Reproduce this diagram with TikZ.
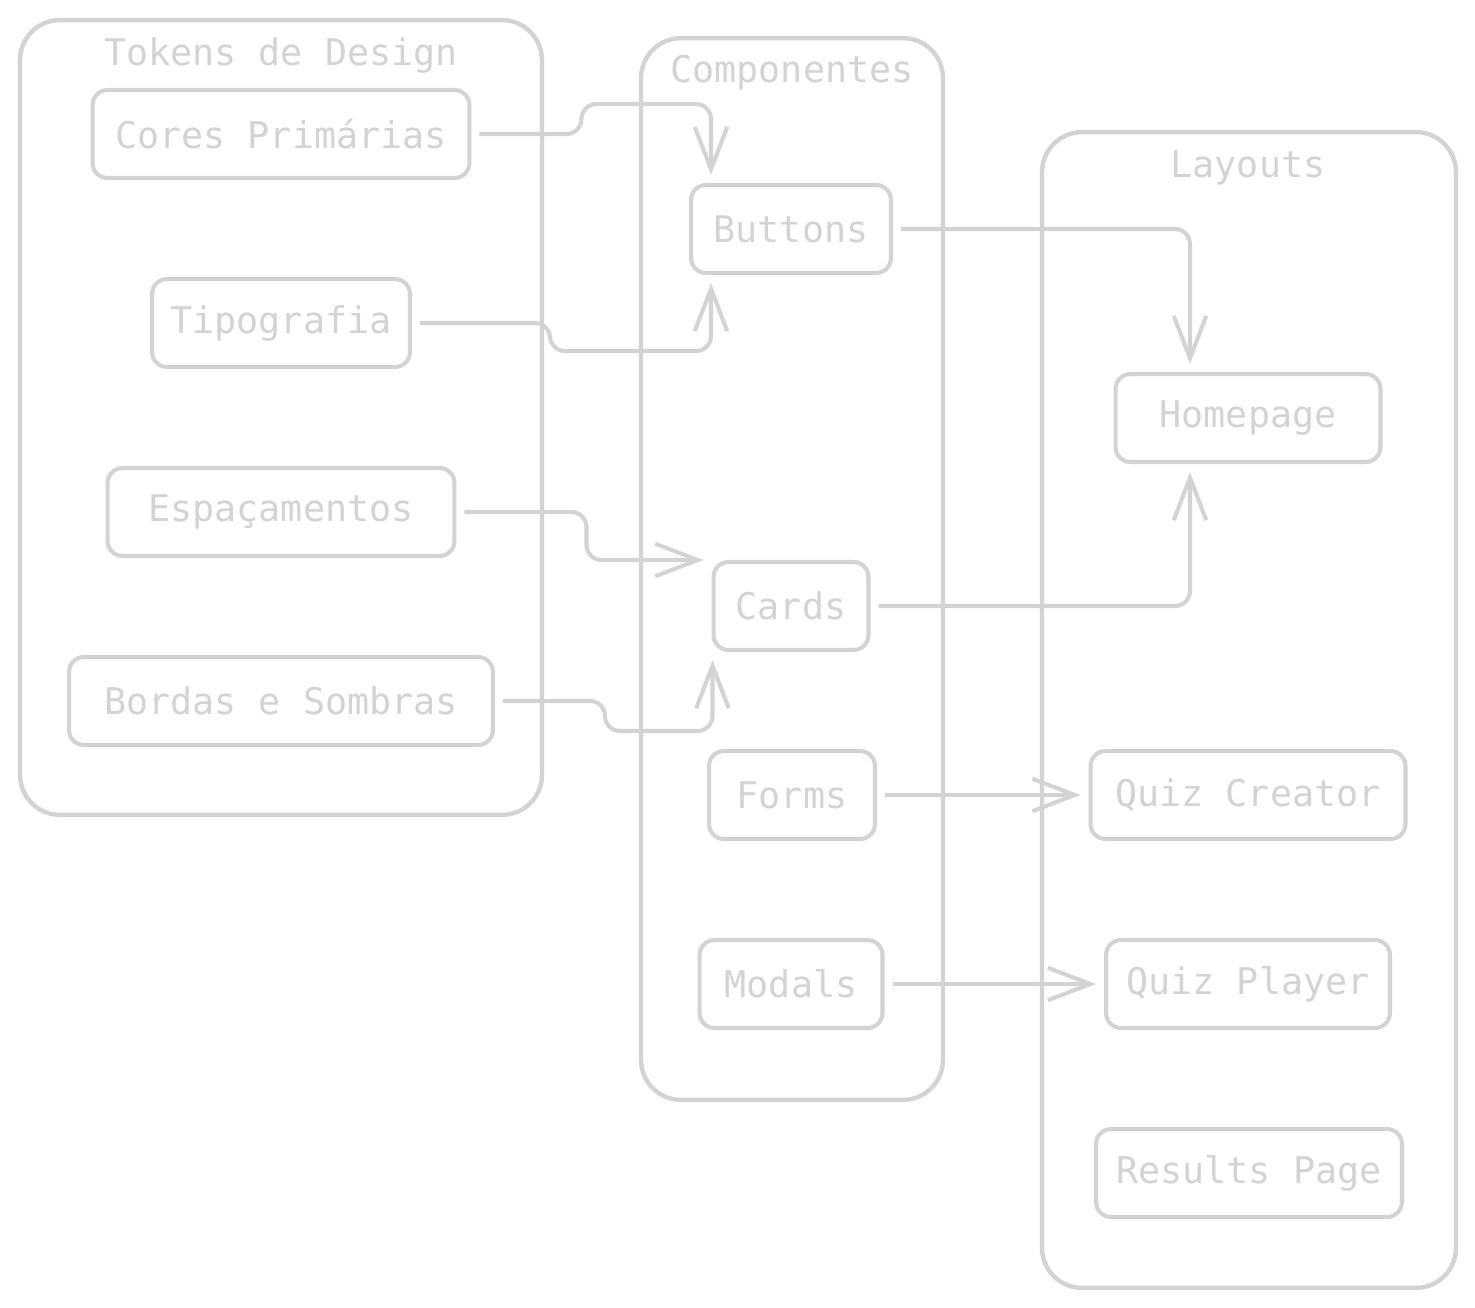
\documentclass[tikz,border=0pt]{standalone}
\usepackage{fontspec}
\setmonofont{DejaVu Sans Mono}
\usetikzlibrary{arrows.meta}
\definecolor{sketchGray}{HTML}{D3D3D3}

\begin{document}
\begin{tikzpicture}[x=0.02cm, y=-0.02cm, groupStyle/.style={rectangle, draw=sketchGray, rounded corners=0.8cm, line width=2.5pt}, boxStyle/.style={rectangle, draw=sketchGray, rounded corners=0.3cm, minimum height=1.76cm, line width=2.3pt}, arrowStyle/.style={draw=sketchGray, -{Straight Barb[length=0.85cm, width=0.65cm]}, rounded corners=0.3cm, shorten <=0.16cm, shorten >=0.16cm, line width=2.3pt}, every node/.style={font=\ttfamily\fontsize{20.9}{24}\selectfont, text=sketchGray}]
                    \useasboundingbox (0,0) rectangle (1475,1308);

                    \node[groupStyle, minimum width=10.44cm, minimum height=15.9cm]  (grp_tok)  at ( 281, 417.5) {};
                    \node[groupStyle, minimum width=6.04cm,  minimum height=21.24cm] (grp_comp) at ( 792, 569) {};
                    \node[groupStyle, minimum width=8.28cm,  minimum height=23.12cm] (grp_lay)  at (1249, 710) {};
                    \node (grp_tok_T)  at ( 281,  55) {Tokens de Design};
                    \node (grp_comp_T) at ( 792,  73) {Componentes};
                    \node (grp_lay_T)  at (1248, 168) {Layouts};

                    \node[boxStyle, minimum width=7.54cm] (tok_0) at (281, 134) {Cores Primárias};
                    \node[boxStyle, minimum width=5.16cm] (tok_1) at (281, 323) {Tipografia};
                    \node[boxStyle, minimum width=6.94cm] (tok_2) at (281, 512) {Espaçamentos};
                    \node[boxStyle, minimum width=8.48cm] (tok_3) at (281, 701) {Bordas e Sombras};

                    \node[boxStyle, minimum width=4.0cm]  (comp_0) at (791, 229) {Buttons};
                    \node[boxStyle, minimum width=3.1cm]  (comp_1) at (791, 606) {Cards};
                    \node[boxStyle, minimum width=3.32cm] (comp_2) at (792, 795) {Forms};
                    \node[boxStyle, minimum width=3.66cm] (comp_3) at (791, 984) {Modals};

                    \node[boxStyle, minimum width=5.3cm]  (lay_0) at (1248,  418) {Homepage};
                    \node[boxStyle, minimum width=6.3cm]  (lay_1) at (1248,  795) {Quiz Creator};
                    \node[boxStyle, minimum width=5.68cm] (lay_2) at (1248,  984) {Quiz Player};
                    \node[boxStyle, minimum width=6.12cm] (lay_3) at (1249, 1173) {Results Page};

                    \draw[arrowStyle] (tok_0.east) -| ++(110,-30) -| ([xshift=0.44cm]comp_0.north west);
                    \draw[arrowStyle] (tok_1.east) -| ++(138,28) -| ([xshift=0.44cm]comp_0.south west);
                    \draw[arrowStyle] (tok_2.east) -- ++(130,0) |- (comp_1.north west);
                    \draw[arrowStyle] (tok_3.east) -| ++(110,30) -| ([xshift=0.02cm]comp_1.south west);
                    \draw[arrowStyle] (comp_0.east) -| ([xshift=-1.16cm]lay_0.north);
                    \draw[arrowStyle] (comp_1.east) -| ([xshift=-1.16cm]lay_0.south);
                    \draw[arrowStyle] (comp_2.east) -- (lay_1.west);
                    \draw[arrowStyle] (comp_3.east) -- (lay_2.west);
                \end{tikzpicture}
\end{document}
